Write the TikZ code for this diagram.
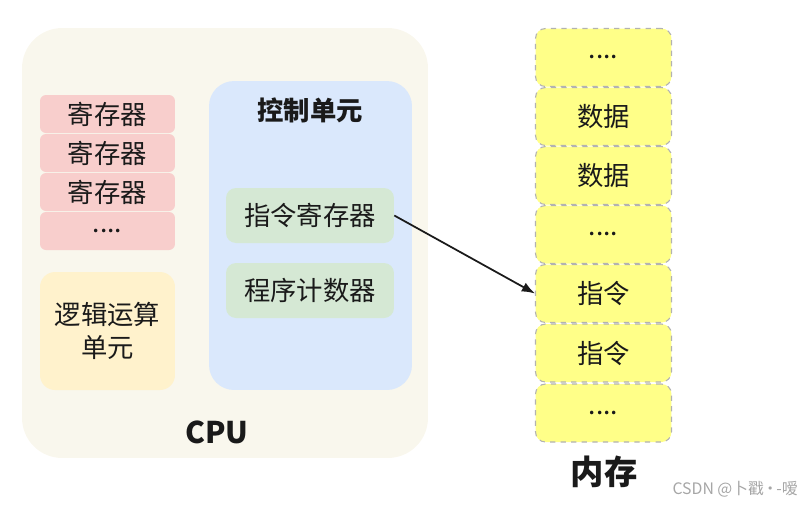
\documentclass[tikz,border=0pt]{standalone}
\usepackage{fontspec}
\setmainfont{Noto Sans CJK SC}
\usetikzlibrary{arrows.meta}
\definecolor{ink}{HTML}{1A1A1A}
\definecolor{cream}{HTML}{F9F7ED}
\definecolor{pink}{HTML}{F8CECC}
\definecolor{sand}{HTML}{FFF2CC}
\definecolor{sky}{HTML}{DAE8FC}
\definecolor{mint}{HTML}{D5E8D4}
\definecolor{lemon}{HTML}{FFFF88}

\begin{document}
\begin{tikzpicture}[x=0.02cm,y=-0.02cm,>=Latex,
    txt/.style={text=ink,font=\fontsize{15}{19}\selectfont,inner sep=0pt},
    regbox/.style={txt,fill=pink,minimum width=2.7cm,minimum height=0.76cm,
      rounded corners=0.12cm},
    memcell/.style={txt,fill=lemon,draw=black!30,dashed,line width=0.6pt,
      minimum width=2.72cm,minimum height=1.16cm,rounded corners=0.2cm},
    greenbox/.style={txt,fill=mint,minimum width=3.36cm,minimum height=1.1cm,
      rounded corners=0.2cm}]
  \useasboundingbox (0,0) rectangle (804,505);

  % CPU side
  \node[fill=cream,minimum width=8.12cm,minimum height=8.6cm,
    rounded corners=0.8cm] (cpu) at (225,243) {};
  \node[txt,font=\fontsize{17}{20}\selectfont\bfseries] (cpulabel)
    at (217,432) {CPU};

  \node[regbox] (reg1) at (107.5,114) {寄存器};
  \node[regbox] (reg2) at (107.5,153) {寄存器};
  \node[regbox] (reg3) at (107.5,192) {寄存器};
  \node[regbox] (reg4) at (107.5,231) {....};

  \node[txt,fill=sand,minimum width=2.7cm,minimum height=2.36cm,
    rounded corners=0.3cm,align=center] (alu) at (107.5,331)
    {逻辑运算\\单元};

  \node[fill=sky,minimum width=4.06cm,minimum height=6.18cm,
    rounded corners=0.5cm] (ctrl) at (310.5,235.5) {};
  \node[txt,font=\fontsize{15}{19}\selectfont\bfseries] (ctrltitle)
    at (310,110) {控制单元};
  \node[greenbox] (ir) at (310,215.5) {指令寄存器};
  \node[greenbox] (pc) at (310,290.5) {程序计数器};

  % memory column
  \node[memcell] (mem1) at (603.5,57.5) {....};
  \node[memcell] (mem2) at (603.5,116.5) {数据};
  \node[memcell] (mem3) at (603.5,175.5) {数据};
  \node[memcell] (mem4) at (603.5,234.5) {....};
  \node[memcell] (mem5) at (603.5,293.5) {指令};
  \node[memcell] (mem6) at (603.5,353) {指令};
  \node[memcell] (mem7) at (603.5,413) {....};
  \node[txt,font=\fontsize{19}{22}\selectfont\bfseries] (memlabel)
    at (604,472) {内存};

  \draw[->,line width=1pt,draw=ink] (ir.east) -- (mem5.west);

  \node[text=black!35,font=\fontsize{9}{11}\selectfont,anchor=east,
    inner sep=0pt] (mark) at (798,489) {CSDN @卜戳\kern-1pt·\kern-1pt-嗳};
\end{tikzpicture}
\end{document}
